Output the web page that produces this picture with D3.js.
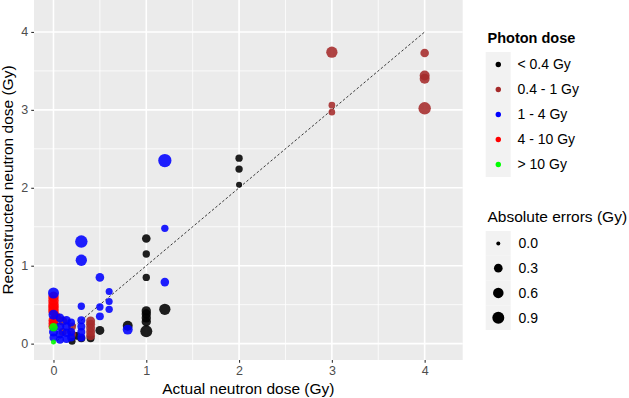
<!DOCTYPE html>
<html lang="en">
<head>
  <meta charset="UTF-8" />
  <title>Reconstructed vs actual neutron dose</title>
  <script src="https://d3js.org/d3.v7.min.js"></script>
  <style>
    body {
      margin: 0;
      background: #fff;
      font-family: "Liberation Sans", Arial, sans-serif;
    }
    svg {
      display: block;
    }
  </style>
</head>
<body>
  <svg id="chart" width="629" height="398"></svg>

  <script>
    // photon dose classes (legend order)
    const doseClasses = ["< 0.4 Gy", "0.4 - 1 Gy", "1 - 4 Gy", "4 - 10 Gy", "> 10 Gy"];

    // [actual, reconstructed, absolute error] in Gy, one array per photon dose class
    const ptsLow = [
      [2, 2.38, 0.16], [2, 2.24, 0.16], [2, 2.04, 0.06],
      [1, 1.35, 0.3], [1, 1.15, 0.16], [1, 0.85, 0.16],
      [1, 0.42, 0.4], [1, 0.38, 0.4], [1, 0.33, 0.4], [1, 0.28, 0.4], [1, 0.16, 0.9],
      [1.2, 0.44, 0.75], [0.8, 0.23, 0.5], [0.5, 0.17, 0.35],
      [0.4, 0.07, 0.22], [0.3, 0.07, 0.22], [0.25, 0.1, 0.2], [0.2, 0.03, 0.13]
    ];
    const ptsMid = [
      [3, 3.74, 0.75], [3, 3.06, 0.1], [3, 2.97, 0.1],
      [4, 3.73, 0.3], [4, 3.44, 0.5], [4, 3.40, 0.5], [4, 3.02, 1.0],
      [0.4, 0.29, 0.35], [0.4, 0.25, 0.35], [0.4, 0.2, 0.35], [0.4, 0.15, 0.35], [0.4, 0.1, 0.35],
      [0.1, 0.29, 0.35], [0.1, 0.15, 0.22], [0.2, 0.22, 0.22], [0.2, 0.12, 0.22]
    ];
    const ptsHigh = [
      [0, 0.6, 0.6], [0, 0.55, 0.6], [0, 0.5, 0.6], [0, 0.46, 0.6], [0, 0.42, 0.6],
      [0, 0.3, 0.5], [0, 0.26, 0.5], [0, 0.22, 0.5], [0.03, 0.35, 0.35]
    ];
    const ptsMedium = [
      [1.2, 2.35, 1.2], [1.2, 1.48, 0.16], [1.2, 0.79, 0.3],
      [0.3, 1.31, 1.0], [0.3, 1.07, 0.75], [0.3, 0.48, 0.16],
      [0.3, 0.3, 0.22], [0.3, 0.22, 0.22], [0.3, 0.15, 0.22], [0.3, 0.08, 0.22],
      [0.5, 0.85, 0.3], [0.5, 0.47, 0.16], [0.5, 0.35, 0.22],
      [0.6, 0.67, 0.13], [0.6, 0.54, 0.13], [0.6, 0.44, 0.16],
      [0.8, 0.18, 0.5],
      [0, 0.65, 0.69], [0, 0.37, 0.5], [0, 0.15, 0.35], [0, 0.08, 0.22],
      [0.07, 0.33, 0.3], [0.07, 0.22, 0.3], [0.07, 0.12, 0.3], [0.07, 0.05, 0.22],
      [0.14, 0.3, 0.3], [0.14, 0.22, 0.3], [0.14, 0.14, 0.3], [0.14, 0.06, 0.22],
      [0.19, 0.27, 0.22], [0.19, 0.15, 0.22], [0.19, 0.08, 0.22]
    ];
    const ptsVeryHigh = [[0, 0.21, 0.3], [0, 0.02, 0.015]];

    const axisTicks = [0, 1, 2, 3, 4];
    const minorTicks = [0.5, 1.5, 2.5, 3.5];
    const sizeBreaks = [0.0, 0.3, 0.6, 0.9];

    // drawing order: black, brown, red, blue, green
    const groups = [
      { cls: 0, pts: ptsLow },
      { cls: 1, pts: ptsMid },
      { cls: 3, pts: ptsHigh },
      { cls: 2, pts: ptsMedium },
      { cls: 4, pts: ptsVeryHigh }
    ];
    const points = groups.flatMap(g => g.pts.map(p => ({
      cls: g.cls, x: p[0], y: p[1], err: p[2]
    })));

    const svg = d3.select("#chart");
    const panel = { left: 34, right: 462.7, top: 0, bottom: 360 };

    const x = d3.scaleLinear().domain([-0.21, 4.41]).range([panel.left, panel.right]);
    const y = d3.scaleLinear().domain([-0.21, 4.41]).range([panel.bottom, panel.top]);
    const r = d3.scaleSqrt().domain([0, 0.9]).range([2, 6]);
    const color = d3.scaleOrdinal().domain(d3.range(5))
      .range(["#000000", "#A52A2A", "#0000FF", "#FF0000", "#00FF00"]);

    // panel background
    svg.append("rect")
      .attr("x", panel.left).attr("y", panel.top)
      .attr("width", panel.right - panel.left)
      .attr("height", panel.bottom - panel.top)
      .attr("fill", "#EBEBEB");

    const grid = svg.append("g").attr("stroke", "#fff");
    grid.selectAll(".vminor").data(minorTicks).join("line")
      .attr("x1", d => x(d)).attr("x2", d => x(d))
      .attr("y1", panel.top).attr("y2", panel.bottom)
      .attr("stroke-width", 0.8);
    grid.selectAll(".hminor").data(minorTicks).join("line")
      .attr("y1", d => y(d)).attr("y2", d => y(d))
      .attr("x1", panel.left).attr("x2", panel.right)
      .attr("stroke-width", 0.8);
    grid.selectAll(".vmajor").data(axisTicks).join("line")
      .attr("x1", d => x(d)).attr("x2", d => x(d))
      .attr("y1", panel.top).attr("y2", panel.bottom)
      .attr("stroke-width", 1.6);
    grid.selectAll(".hmajor").data(axisTicks).join("line")
      .attr("y1", d => y(d)).attr("y2", d => y(d))
      .attr("x1", panel.left).attr("x2", panel.right)
      .attr("stroke-width", 1.6);

    // identity line
    svg.append("line")
      .attr("x1", x(0)).attr("y1", y(0))
      .attr("x2", x(4)).attr("y2", y(4))
      .attr("stroke", "#222")
      .attr("stroke-width", 0.9)
      .attr("stroke-dasharray", "2.5,2");

    svg.append("g")
      .selectAll("circle")
      .data(points)
      .join("circle")
      .attr("cx", d => x(d.x))
      .attr("cy", d => y(d.y))
      .attr("r", d => r(d.err))
      .attr("fill", d => color(d.cls))
      .attr("fill-opacity", 0.88);

    // axes
    const xAxis = svg.append("g")
      .attr("transform", `translate(0,${panel.bottom})`)
      .call(d3.axisBottom(x).tickValues(axisTicks).tickSize(2.75).tickPadding(3).tickFormat(d3.format("d")));
    const yAxis = svg.append("g")
      .attr("transform", `translate(${panel.left},0)`)
      .call(d3.axisLeft(y).tickValues(axisTicks).tickSize(2.75).tickPadding(3).tickFormat(d3.format("d")));
    [xAxis, yAxis].forEach(a => {
      a.select(".domain").remove();
      a.selectAll(".tick line").attr("stroke", "#333").attr("stroke-width", 1.1);
      a.selectAll(".tick text")
        .attr("fill", "#4D4D4D")
        .style("font-size", "12.5px")
        .style("font-family", "'Liberation Sans', Arial, sans-serif");
    });

    svg.append("text")
      .attr("x", (panel.left + panel.right) / 2)
      .attr("y", 394)
      .attr("text-anchor", "middle")
      .style("font-size", "15.5px")
      .text("Actual neutron dose (Gy)");

    svg.append("text")
      .attr("transform", `translate(12.5,${(panel.top + panel.bottom) / 2}) rotate(-90)`)
      .attr("text-anchor", "middle")
      .style("font-size", "15.5px")
      .text("Reconstructed neutron dose (Gy)");

    // legend: photon dose
    const leg1 = svg.append("g");
    leg1.append("text")
      .attr("x", 487.5).attr("y", 43)
      .style("font-size", "14.5px")
      .style("font-weight", "bold")
      .text("Photon dose");
    leg1.selectAll(".key").data(doseClasses).join("rect")
      .attr("x", 485.7).attr("y", (d, i) => 52 + i * 25)
      .attr("width", 25).attr("height", 25)
      .attr("fill", "#F2F2F2");
    leg1.selectAll(".dot").data(doseClasses).join("circle")
      .attr("cx", 498.3).attr("cy", (d, i) => 64.5 + i * 25)
      .attr("r", 2.7)
      .attr("fill", (d, i) => color(i));
    leg1.selectAll(".lab").data(doseClasses).join("text")
      .attr("x", 517.5).attr("y", (d, i) => 64.5 + i * 25)
      .attr("dy", "0.35em")
      .style("font-size", "14px")
      .text(d => d);

    // legend: absolute errors
    const leg2 = svg.append("g");
    leg2.append("text")
      .attr("x", 487.5).attr("y", 222)
      .style("font-size", "15.5px")
      .text("Absolute errors (Gy)");
    leg2.selectAll(".key").data(sizeBreaks).join("rect")
      .attr("x", 485.7).attr("y", (d, i) => 231 + i * 24.75)
      .attr("width", 25).attr("height", 24.75)
      .attr("fill", "#F2F2F2");
    leg2.selectAll(".dot").data(sizeBreaks).join("circle")
      .attr("cx", 498.3).attr("cy", (d, i) => 243.4 + i * 24.75)
      .attr("r", d => r(d))
      .attr("fill", "#000");
    leg2.selectAll(".lab").data(sizeBreaks).join("text")
      .attr("x", 518.5).attr("y", (d, i) => 243.4 + i * 24.75)
      .attr("dy", "0.35em")
      .style("font-size", "14px")
      .text(d => d3.format(".1f")(d));
  </script>
</body>
</html>
